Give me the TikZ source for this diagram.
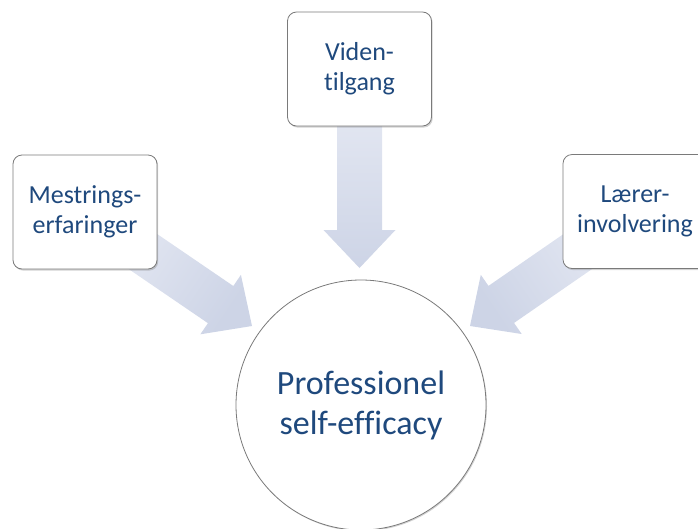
\documentclass[tikz,border=0pt]{standalone}
\usepackage{fontspec}
\setmainfont{Carlito}[Ligatures=NoCommon]
\usetikzlibrary{calc,shadows}
\definecolor{txtblue}{HTML}{1F497D}
\definecolor{arrlight}{HTML}{E9ECF5}
\definecolor{arrdark}{HTML}{CDD4E6}
\definecolor{edgegray}{HTML}{7A7A7A}
\tikzset{
  factor/.style={draw=edgegray, line width=0.8pt, fill=white, rounded corners=9pt,
    minimum width=144pt, minimum height=114pt, align=center, text=txtblue,
    font=\fontsize{26}{30}\selectfont,
    drop shadow={opacity=0.35, shadow xshift=1.2pt, shadow yshift=-1.6pt}},
  core/.style={circle, draw=edgegray, line width=0.8pt, fill=white, minimum size=250pt,
    align=center, text=txtblue, font=\fontsize{34}{40}\selectfont,
    drop shadow={opacity=0.35, shadow xshift=1pt, shadow yshift=-1.2pt}},
  flow/.style={top color=arrlight, bottom color=arrdark, draw=none}
}
% block arrow from #2 to #3, shaded with options #1
\newcommand{\blockarrow}[3]{%
  \coordinate (ba-h) at ($(#3)!38pt!(#2)$);
  \path[flow,#1]
    ($(#2)!22.5pt!90:(#3)$) -- ($(ba-h)!22.5pt!-90:(#2)$) --
    ($(ba-h)!36pt!-90:(#2)$) -- (#3) --
    ($(ba-h)!36pt!90:(#2)$) -- ($(ba-h)!22.5pt!90:(#2)$) --
    ($(#2)!22.5pt!-90:(#3)$) -- cycle;
}
\begin{document}
\begin{tikzpicture}[x=1pt,y=-1pt]
  \useasboundingbox (0,0) rectangle (698,528);
  \clip (0,0) rectangle (698,528);

  % arrow anchors
  \coordinate (ls) at (85,212);
  \coordinate (lt) at (252,326);
  \coordinate (ts) at (359.5,69);
  \coordinate (tt) at (359.5,268);
  \coordinate (rs) at (635,212);
  \coordinate (rt) at (470,326);

  % block arrows, drawn beneath the boxes
  \blockarrow{shading angle=56}{ls}{lt}
  \blockarrow{shading angle=0}{ts}{tt}
  \blockarrow{shading angle=-56}{rs}{rt}

  % the three sources
  \node[factor] (mest) at (85,212) {Mestrings-\\erfaringer};
  \node[factor] (viden) at (359.5,69) {Viden-\\tilgang};
  \node[factor] (laerer) at (635,211.5) {Lærer-\\involvering};

  % the outcome
  \node[core] (self) at (361,405) {Professionel\\self-efficacy};
\end{tikzpicture}
\end{document}
